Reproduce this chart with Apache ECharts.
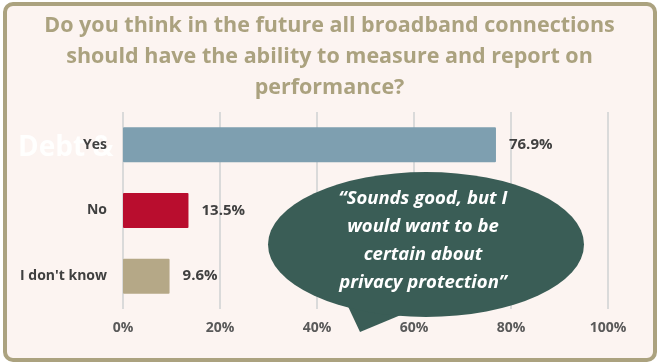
<!DOCTYPE html>
<html>
<head>
<meta charset="utf-8">
<script src="https://cdn.jsdelivr.net/npm/echarts@6/dist/echarts.min.js"></script>
<style>
  html, body { margin: 0; padding: 0; background: #ffffff; }
  #chart { width: 659px; height: 363px; }
</style>
</head>
<body>
<div id="chart"></div>
<script>
// Survey answers and their shares (%)
const categories = ['Yes', 'No', "I don't know"];
const shares = [76.9, 13.5, 9.6];
const barColors = ['#7E9FB0', '#B90D2E', '#B5A887'];
const tickLabels = ['0%', '20%', '40%', '60%', '80%', '100%'];

const titleLines = [
  'Do you think in the future all broadband connections',
  'should have the ability to measure and report on',
  'performance?'
];
const quoteLines = [
  '\u201CSounds good, but I',
  'would want to be',
  'certain about',
  'privacy protection\u201D'
];

const FONT = '"Open Sans", Lato, sans-serif';
const BUBBLE = '#3A5D56';
const chart = echarts.init(document.getElementById('chart'));

chart.setOption({
  backgroundColor: '#ffffff',
  animation: false,
  title: {
    text: titleLines.join('\n'),
    left: 'center',
    top: 5,
    textStyle: {
      color: '#ABA27F',
      fontFamily: FONT,
      fontWeight: 'bold',
      fontSize: 21.5,
      lineHeight: 31,
      align: 'center'
    }
  },
  grid: { left: 123, right: 51, top: 112, bottom: 54 },
  xAxis: {
    type: 'value',
    min: 0,
    max: 100,
    interval: 20,
    axisLine: { show: false },
    axisTick: { show: false },
    splitLine: { show: true, lineStyle: { color: '#DADADA', width: 2 } },
    axisLabel: {
      margin: 12,
      color: '#595959',
      fontFamily: FONT,
      fontWeight: 'bold',
      fontSize: 14,
      formatter: (v) => tickLabels[Math.round(v / 20)]
    }
  },
  yAxis: {
    type: 'category',
    inverse: true,
    data: categories,
    axisLine: { show: false },
    axisTick: { show: false },
    axisLabel: {
      margin: 16,
      color: '#404040',
      fontFamily: FONT,
      fontWeight: 'bold',
      fontSize: 14
    }
  },
  series: [{
    type: 'bar',
    barWidth: 35,
    data: shares.map((v, i) => ({ value: v, itemStyle: { color: barColors[i] } })),
    itemStyle: { borderRadius: 1 },
    label: {
      show: true,
      position: 'right',
      distance: 13,
      color: '#404040',
      fontFamily: FONT,
      fontWeight: 'bold',
      fontSize: 15,
      formatter: (p) => p.value.toFixed(1) + '%'
    },
    z: 3
  }],
  graphic: [
    // framed panel behind the chart
    {
      type: 'rect',
      z: -20,
      shape: { x: 5, y: 4, width: 650, height: 356, r: 8 },
      style: { fill: '#FCF4F1', stroke: '#ABA27F', lineWidth: 4 }
    },
    // faded heading left behind the first row
    {
      type: 'text',
      z: -10,
      x: 18,
      y: 148,
      style: {
        text: 'Debt &',
        fill: 'rgba(255,255,255,0.92)',
        font: 'bold 28px ' + FONT,
        verticalAlign: 'middle'
      }
    },
    // speech bubble with quote
    {
      type: 'polygon',
      z: 100,
      shape: { points: [[345, 300], [360, 332], [408, 312]] },
      style: { fill: BUBBLE }
    },
    {
      type: 'circle',
      z: 100,
      x: 426,
      y: 244.5,
      scaleX: 158 / 72.5,
      scaleY: 1,
      shape: { cx: 0, cy: 0, r: 72.5 },
      style: { fill: BUBBLE }
    },
    {
      type: 'text',
      z: 101,
      x: 423,
      y: 241,
      style: {
        text: quoteLines.join('\n'),
        fill: '#ffffff',
        font: 'italic bold 18.5px ' + FONT,
        lineHeight: 28,
        align: 'center',
        verticalAlign: 'middle'
      }
    }
  ]
});
</script>
</body>
</html>
